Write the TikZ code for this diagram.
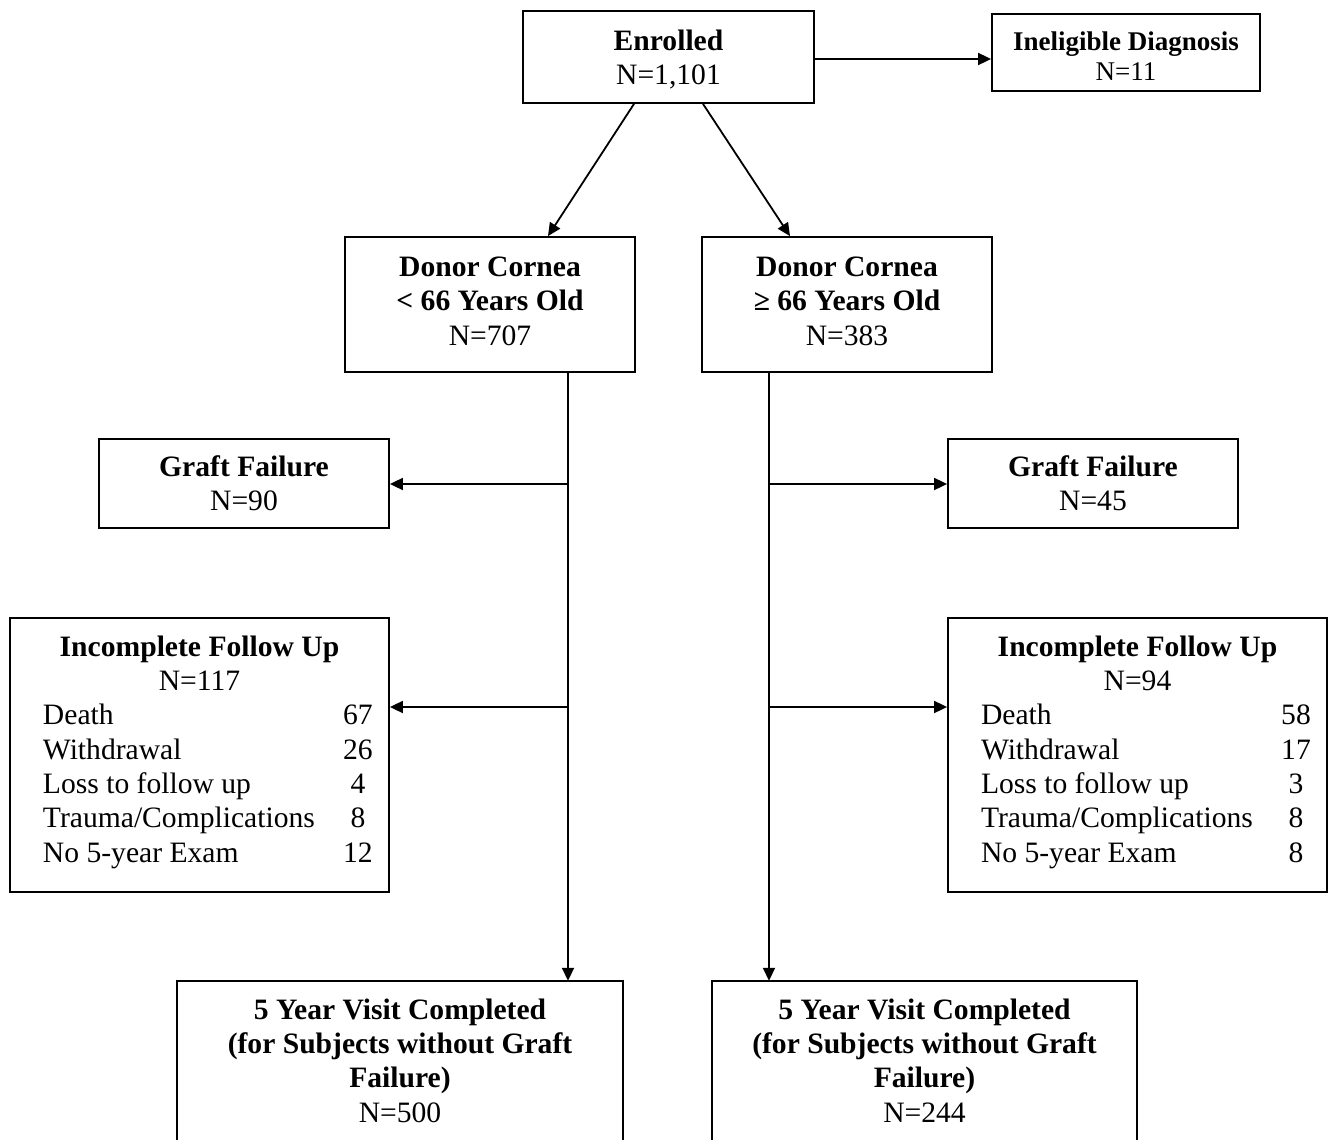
\documentclass[tikz,border=0pt]{standalone}
\usepackage{fontspec}
\setmainfont{Liberation Serif}
\usetikzlibrary{arrows.meta}
\newcommand\fsz{\fontsize{29.6}{34.3}\selectfont}
\newcommand\fsm{\fontsize{27}{30}\selectfont}
\newcommand\lrow[2]{\makebox[347pt][l]{\hspace{17pt}\makebox[300pt][l]{#1}\makebox[30pt]{#2}}}
\begin{document}
\begin{tikzpicture}[x=1pt,y=-1pt,
  box/.style={draw, line width=1.8pt, rectangle, inner sep=0pt, align=center, font=\fsz},
  openbox/.style={rectangle, inner sep=0pt, align=center, font=\fsz},
  arr/.style={-{Triangle[length=13pt,width=12pt]}, line width=1.8pt},
  ln/.style={line width=1.8pt}]
\useasboundingbox[fill=white] (0,0) rectangle (1336,1140);

\node[box, minimum width=291pt, minimum height=92pt] (enr) at (668.5,57)
  {\rule{0pt}{26pt}\textbf{Enrolled}\\N=1,101};
\node[box, font=\fsm, minimum width=268pt, minimum height=77pt] (ine) at (1126,52.5)
  {\rule{0pt}{27pt}\textbf{Ineligible Diagnosis}\\N=11};
\node[box, minimum width=290pt, minimum height=135pt, text depth=7pt] (dl) at (490,304.5)
  {\textbf{Donor Cornea}\\\textbf{< 66 Years Old}\\N=707};
\node[box, minimum width=290pt, minimum height=135pt, text depth=7pt] (dr) at (847,304.5)
  {\textbf{Donor Cornea}\\\textbf{≥ 66 Years Old}\\N=383};
\node[box, minimum width=290pt, minimum height=89pt] (gl) at (244,483.5)
  {\textbf{Graft Failure}\\N=90};
\node[box, minimum width=290pt, minimum height=89pt] (gr) at (1093,483.5)
  {\textbf{Graft Failure}\\N=45};
\node[box, minimum width=379pt, minimum height=274pt, text depth=12pt] (il) at (199.5,755)
  {\textbf{Incomplete Follow Up}\\N=117\\\lrow{Death}{67}\\\lrow{Withdrawal}{26}\\\lrow{Loss to follow up}{4}\\\lrow{Trauma/Complications}{8}\\\lrow{No 5-year Exam}{12}};
\node[box, minimum width=379pt, minimum height=274pt, text depth=12pt] (ir) at (1137.5,755)
  {\textbf{Incomplete Follow Up}\\N=94\\\lrow{Death}{58}\\\lrow{Withdrawal}{17}\\\lrow{Loss to follow up}{3}\\\lrow{Trauma/Complications}{8}\\\lrow{No 5-year Exam}{8}};
\node[openbox, minimum width=446pt, minimum height=159pt] (bl) at (400,1060.5)
  {\textbf{5 Year Visit Completed}\\\textbf{(for Subjects without Graft}\\\textbf{Failure)}\\N=500};
\node[openbox, minimum width=425pt, minimum height=159pt] (br) at (924.5,1060.5)
  {\textbf{5 Year Visit Completed}\\\textbf{(for Subjects without Graft}\\\textbf{Failure)}\\N=244};
\draw[ln] (bl.south west) |- (bl.north east) -- (bl.south east);
\draw[ln] (br.south west) |- (br.north east) -- (br.south east);

% connectors
\draw[arr] ([yshift=-2pt]enr.east) -- ([yshift=-2pt]enr.east -| ine.west);
\draw[arr] ([xshift=-34.5pt]enr.south) -- ([xshift=58pt]dl.north);
\draw[arr] ([xshift=34.5pt]enr.south) -- ([xshift=-57pt]dr.north);

\coordinate (ltop) at ([xshift=78pt]dl.south);
\coordinate (rtop) at ([xshift=-78pt]dr.south);
\draw[arr] (ltop) -- (ltop |- bl.north);
\draw[arr] (rtop) -- (rtop |- br.north);
\coordinate (lg) at (ltop |- 0,484);
\coordinate (rg) at (rtop |- 0,484);
\draw[arr] (lg) -- (lg -| gl.east);
\draw[arr] (rg) -- (rg -| gr.west);
\coordinate (lmid) at (ltop |- 0,707);
\coordinate (rmid) at (rtop |- 0,707);
\draw[arr] (lmid) -- (lmid -| il.east);
\draw[arr] (rmid) -- (rmid -| ir.west);
\end{tikzpicture}
\end{document}
